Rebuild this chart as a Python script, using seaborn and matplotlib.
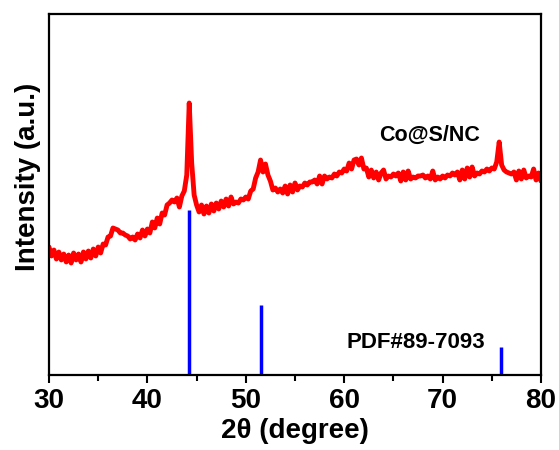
import numpy as np
import pandas as pd
import matplotlib
matplotlib.use("Agg")
import matplotlib.pyplot as plt
import seaborn as sns
from matplotlib.ticker import MultipleLocator

# ---- data (intensity in arbitrary units) ----
two_theta = np.arange(30.0, 80.001, 0.25)
intensity = [
    128, 119, 125, 116, 123, 115, 121, 113,   # 30.00-31.75
    120, 112, 122, 115, 121, 113, 123, 116,   # 32
    124, 117, 126, 119, 128, 122, 131, 130,   # 34
    138, 139, 147, 146, 145, 142, 142, 140,   # 36
    139, 136, 138, 135, 141, 137, 145, 139,   # 38
    146, 142, 153, 147, 157, 151, 162, 160,   # 40
    170, 172, 175, 173, 177, 168, 179, 184,   # 42
    200, 272, 212, 180, 170, 163, 170, 161,   # 44
    169, 162, 171, 164, 172, 166, 174, 168,   # 46
    176, 169, 178, 171, 173, 172, 176, 175,   # 48
    178, 176, 184, 186, 197, 203, 215, 203,   # 50
    211, 200, 194, 185, 187, 183, 186, 182,   # 52
    189, 181, 190, 183, 192, 185, 189, 188,   # 54
    192, 190, 193, 193, 195, 191, 199, 191,   # 56
    199, 196, 198, 197, 201, 199, 203, 202,   # 58
    206, 204, 212, 206, 215, 216, 210, 217,   # 60
    206, 207, 198, 205, 197, 203, 195, 202,   # 62
    205, 196, 199, 198, 201, 199, 202, 194,   # 64
    203, 195, 204, 196, 198, 197, 199, 199,   # 66
    200, 197, 199, 196, 204, 195, 198, 196,   # 68
    199, 197, 200, 199, 202, 200, 203, 195,   # 70
    205, 196, 207, 198, 208, 199, 202, 201,   # 72
    204, 203, 206, 204, 207, 206, 213, 233,   # 74
    210, 205, 203, 202, 201, 203, 195, 204,   # 76
    196, 205, 197, 199, 198, 206, 195, 202,   # 78
    194,                                      # 80
]

pdf_positions = [44.2, 51.5, 75.9]
pdf_heights = [165, 70, 28]

x_ticks = [30, 40, 50, 60, 70, 80]
sample_label = "Co@S/NC"
pdf_label = "PDF#89-7093"

df = pd.DataFrame({"two_theta": two_theta, "intensity": intensity})

sns.set_style("white")
plt.rcParams["font.family"] = ["Liberation Sans", "DejaVu Sans"]
plt.rcParams["font.weight"] = "bold"
plt.rcParams["text.color"] = "black"
plt.rcParams["axes.labelcolor"] = "black"
plt.rcParams["xtick.color"] = "black"
plt.rcParams["ytick.color"] = "black"

fig = plt.figure(figsize=(5.59, 4.5), dpi=100)
ax = fig.add_axes([49 / 559, 1 - 375 / 450, (541 - 49) / 559, (375 - 14) / 450])

sns.lineplot(data=df, x="two_theta", y="intensity", ax=ax, color="#ff0000",
             linewidth=3.5)
ax.vlines(pdf_positions, 0, pdf_heights, color="#0000ff", linewidth=2.5)

ax.set_xlim(30, 80)
ax.set_ylim(0, 361)
ax.set_xticks(x_ticks)
ax.xaxis.set_minor_locator(MultipleLocator(5))
ax.set_yticks([])
ax.tick_params(axis="x", which="major", direction="out", length=6, width=1.5,
               bottom=True, top=False, labelsize=20, pad=3, colors="black")
ax.tick_params(axis="x", which="minor", direction="out", length=4, width=1.5,
               bottom=True, top=False)
for lab in ax.get_xticklabels():
    lab.set_fontweight("bold")
for sp in ax.spines.values():
    sp.set_linewidth(1.6)
    sp.set_color("black")

ax.set_xlabel("2\u03b8 (degree)", fontsize=20, fontweight="bold", labelpad=3,
              color="black")
ax.set_ylabel("Intensity (a.u.)", fontsize=20, fontweight="bold", color="black")
ax.yaxis.set_label_coords(-0.016, (375 - 177) / 361)

ax.text(63.5, 240, sample_label, fontsize=15.5, fontweight="bold", ha="left",
        va="center", color="black")
ax.text(60.2, 32, pdf_label, fontsize=16, fontweight="bold", ha="left",
        va="center", color="black")

fig.savefig("out.png", dpi=100)
